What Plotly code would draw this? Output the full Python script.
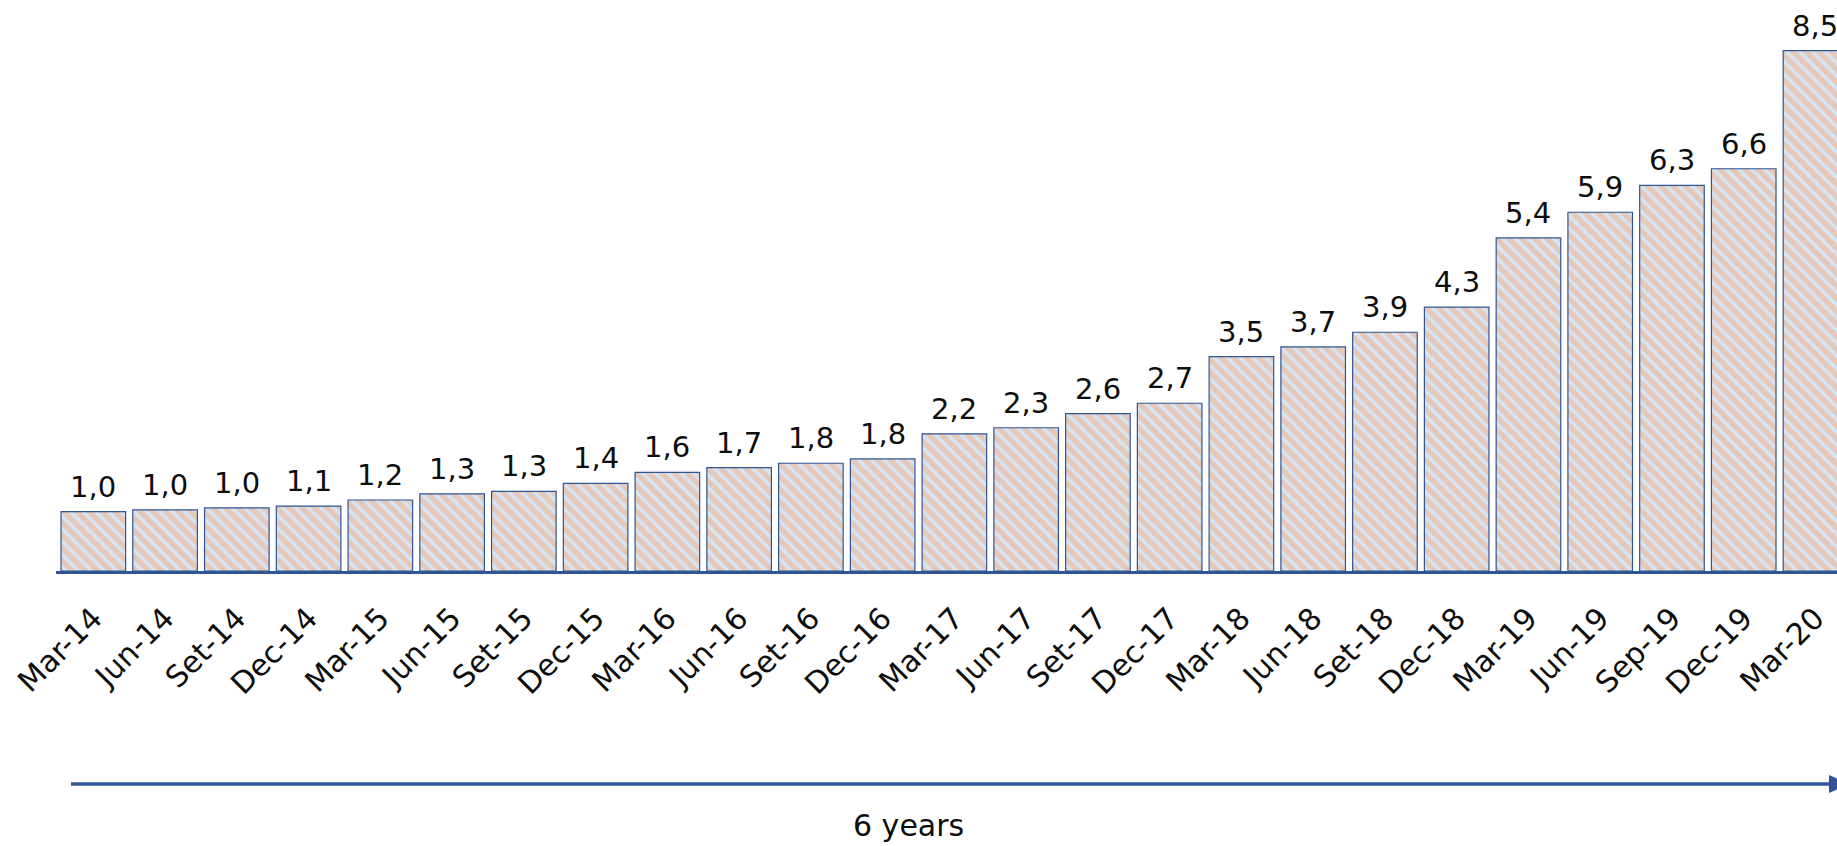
import plotly.graph_objects as go

# Quarterly periods and index values (base Mar-14 = 1,0)
periods = ["Mar-14", "Jun-14", "Set-14", "Dec-14", "Mar-15", "Jun-15", "Set-15", "Dec-15",
           "Mar-16", "Jun-16", "Set-16", "Dec-16", "Mar-17", "Jun-17", "Set-17", "Dec-17",
           "Mar-18", "Jun-18", "Set-18", "Dec-18", "Mar-19", "Jun-19", "Sep-19", "Dec-19",
           "Mar-20"]
values = [0.97, 1.00, 1.03, 1.06, 1.16, 1.26, 1.30, 1.43, 1.61, 1.69, 1.76, 1.83, 2.24,
          2.34, 2.57, 2.74, 3.50, 3.66, 3.90, 4.31, 5.44, 5.86, 6.30, 6.57, 8.50]
span_label = "6 years"

W, H = 1837, 846
M_L, M_R, M_T, M_B = 56, 0, 20, 275
FONT = "DejaVu Sans"
BLUE = "#2F5597"
TXT = "#0D0D0D"

fig = go.Figure()
fig.add_trace(go.Bar(
    x=periods, y=values,
    marker=dict(
        color="#D6E4F3",
        line=dict(color=BLUE, width=1.2),
        pattern=dict(shape="\\", fgcolor="#F4AC7C", bgcolor="#D6E4F3",
                     size=9, solidity=0.6),
    ),
    hoverinfo="skip",
))

# value labels above each bar
for p, v in zip(periods, values):
    fig.add_annotation(x=p, y=v, text=f"{v:.1f}".replace(".", ","),
                       showarrow=False, yanchor="bottom", yshift=6,
                       font=dict(family=FONT, size=29, color=TXT))

# convert page pixels to paper coordinates for the timeline arrow
plot_w = W - M_L - M_R
plot_h = H - M_T - M_B
def px(xp):
    return (xp - M_L) / plot_w
def py(yp):
    return (H - M_B - yp) / plot_h

arrow_y = 784
fig.add_shape(type="line", xref="paper", yref="paper",
              x0=px(71), x1=px(1832), y0=py(arrow_y), y1=py(arrow_y),
              line=dict(color=BLUE, width=3.5))
fig.add_shape(type="path", xref="paper", yref="paper",
              path=f"M {px(1829)} {py(arrow_y - 9)} L {px(1849)} {py(arrow_y)} "
                   f"L {px(1829)} {py(arrow_y + 9)} Z",
              fillcolor=BLUE, line=dict(color=BLUE, width=0))
fig.add_annotation(x=px(908), y=py(826), xref="paper", yref="paper",
                   text=span_label, showarrow=False, yanchor="middle",
                   font=dict(family=FONT, size=30, color=TXT))

fig.update_layout(
    width=W, height=H,
    margin=dict(l=M_L, r=M_R, t=M_T, b=M_B, autoexpand=False),
    paper_bgcolor="white", plot_bgcolor="white",
    bargap=0.1, showlegend=False,
    font=dict(family=FONT, color=TXT),
)
fig.update_xaxes(
    range=[-0.52, 24.30], showline=True, linecolor=BLUE, linewidth=2.5,
    showgrid=False, zeroline=False, tickangle=-45, automargin=False,
    ticks="", ticklabelstandoff=15,
    tickfont=dict(family=FONT, size=30, color=TXT),
)
fig.update_yaxes(range=[0, 9], visible=False, showgrid=False, zeroline=False)

fig.write_html("out.html")
